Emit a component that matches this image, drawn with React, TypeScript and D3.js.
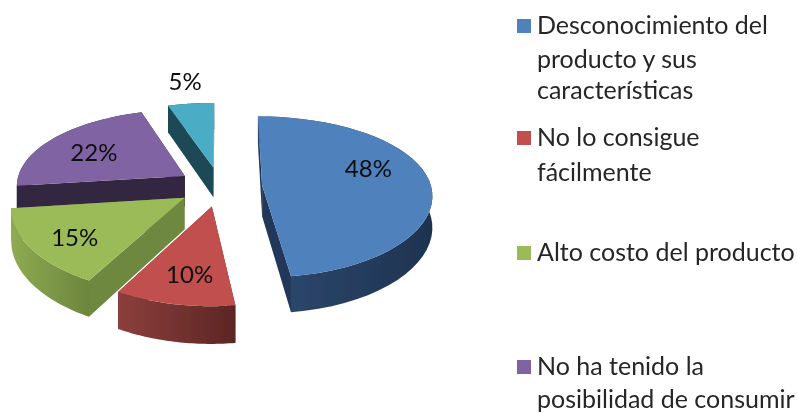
import React from "react";
import * as d3 from "d3";

const categories = ["Desconocimiento del producto y sus características", "No lo consigue fácilmente", "Alto costo del producto", "No ha tenido la posibilidad de consumir"];
const values = [48, 10, 15, 22, 5];
const legendLines = [["Desconocimiento del", "producto y sus", "características"], ["No lo consigue", "fácilmente"], ["Alto costo del producto"], ["No ha tenido la", "posibilidad de consumir"]];
const legendBaselines = [[34, 68, 99], [146, 181], [261], [375, 408]];
const topColors = ["#4f81bd", "#c0504d", "#9bbb59", "#8064a2", "#4bacc6"];
const wallLeft = ["#2f4a72", "#8c3f3c", "#8fab52", "#33263f", "#1e4a55"];
const wallRight = ["#1e3350", "#5c2624", "#6c853c", "#33263f", "#1e4a55"];
const cutColors = ["#24395a", "#5c2624", "#6e8840", "#33263f", "#1e4a55"];
const drawOrder = [4, 3, 0, 2, 1];
const labelPolar = [[73.6, 0.676], [188.7, 0.75], [231.5, 0.76], [297.5, 0.643], [351.4, 1.364]];

const W = 797, H = 413;
const CX = 220, CY = 186.5, RX0 = 169, RY0 = 79, K = 1 / 7, KX = 0.11, DEPTH = 31, EXPLODE = 0.25;
const FONT = "Lato, Carlito, 'Open Sans', sans-serif";

const project = (u: number, v: number, z = 0): [number, number] => {
  const p = 1 / (1 - K * v);
  const px = 1 / (1 - KX * v);
  return [CX + RX0 * u * px, CY + RY0 * v * p + z * DEPTH * p];
};
const line = d3.line<[number, number]>();
const polar = (a: number, r: number): [number, number] => [Math.sin(a) * r, -Math.cos(a) * r];

const arcs = d3.pie<number>().sort(null).startAngle(0).endAngle(2 * Math.PI)(values);

export default function App() {
  const slices = arcs.map((arc, i) => {
    const mid = (arc.startAngle + arc.endAngle) / 2;
    const [ox, oy] = polar(mid, EXPLODE);
    const angles = d3.range(0, 41).map(t => arc.startAngle + (arc.endAngle - arc.startAngle) * t / 40);
    const rim = angles.map(a => { const [u, v] = polar(a, 1); return [u + ox, v + oy] as [number, number]; });
    const top: [number, number][] = [project(ox, oy), ...rim.map(([u, v]) => project(u, v))];
    const wall = [...rim.map(([u, v]) => project(u, v)), ...[...rim].reverse().map(([u, v]) => project(u, v, 1))];
    const cut = (pt: [number, number]) => [project(ox, oy), project(pt[0], pt[1]), project(pt[0], pt[1], 1), project(ox, oy, 1)] as [number, number][];
    return { i, top, wall, cutA: cut(rim[0]), cutB: cut(rim[rim.length - 1]), xs: d3.extent(wall, d => d[0]) as [number, number] };
  });
  return (
    <svg width={W} height={H} style={{ position: "absolute", left: 0, top: 0, background: "#fff" }}>
      <defs>
        <filter id="soft" x="-5%" y="-5%" width="110%" height="110%"><feGaussianBlur stdDeviation="0.5" /></filter>
        <filter id="softText" x="-5%" y="-5%" width="110%" height="110%"><feGaussianBlur stdDeviation="0.3" /></filter>
        {slices.map(s => (
          <linearGradient key={s.i} id={`w${s.i}`} gradientUnits="userSpaceOnUse" x1={s.xs[0]} x2={s.xs[1]} y1={0} y2={0}>
            <stop offset="0" stopColor={wallLeft[s.i]} />
            <stop offset="1" stopColor={wallRight[s.i]} />
          </linearGradient>
        ))}
      </defs>
      <g filter="url(#soft)">
        {drawOrder.map(i => {
          const s = slices[i];
          return (
            <g key={i}>
              <path d={line(s.cutA)! + "Z"} fill={cutColors[i]} />
              <path d={line(s.cutB)! + "Z"} fill={cutColors[i]} />
              <path d={line(s.wall)! + "Z"} fill={`url(#w${i})`} />
              <path d={line(s.top)! + "Z"} fill={topColors[i]} />
            </g>
          );
        })}
      </g>
      <g fontFamily={FONT} fontSize={24} fill="#111" textAnchor="middle" filter="url(#softText)">
        {arcs.map((arc, i) => {
          const mid = (arc.startAngle + arc.endAngle) / 2;
          const [ox, oy] = polar(mid, EXPLODE);
          const [u, v] = polar(labelPolar[i][0] * Math.PI / 180, labelPolar[i][1]);
          const [x, y] = project(u + ox, v + oy);
          return <text key={i} x={x} y={y} dominantBaseline="middle">{values[i]}%</text>;
        })}
      </g>
      <g fontFamily={FONT} fontSize={25} fill="#262626" filter="url(#softText)">
        {categories.map((c, i) => (
          <g key={c}>
            <rect x={517} y={legendBaselines[i][0] - 15} width={14} height={14} fill={topColors[i]} />
            {legendLines[i].map((l, j) => <text key={j} x={537} y={legendBaselines[i][j]}>{l}</text>)}
          </g>
        ))}
      </g>
    </svg>
  );
}
